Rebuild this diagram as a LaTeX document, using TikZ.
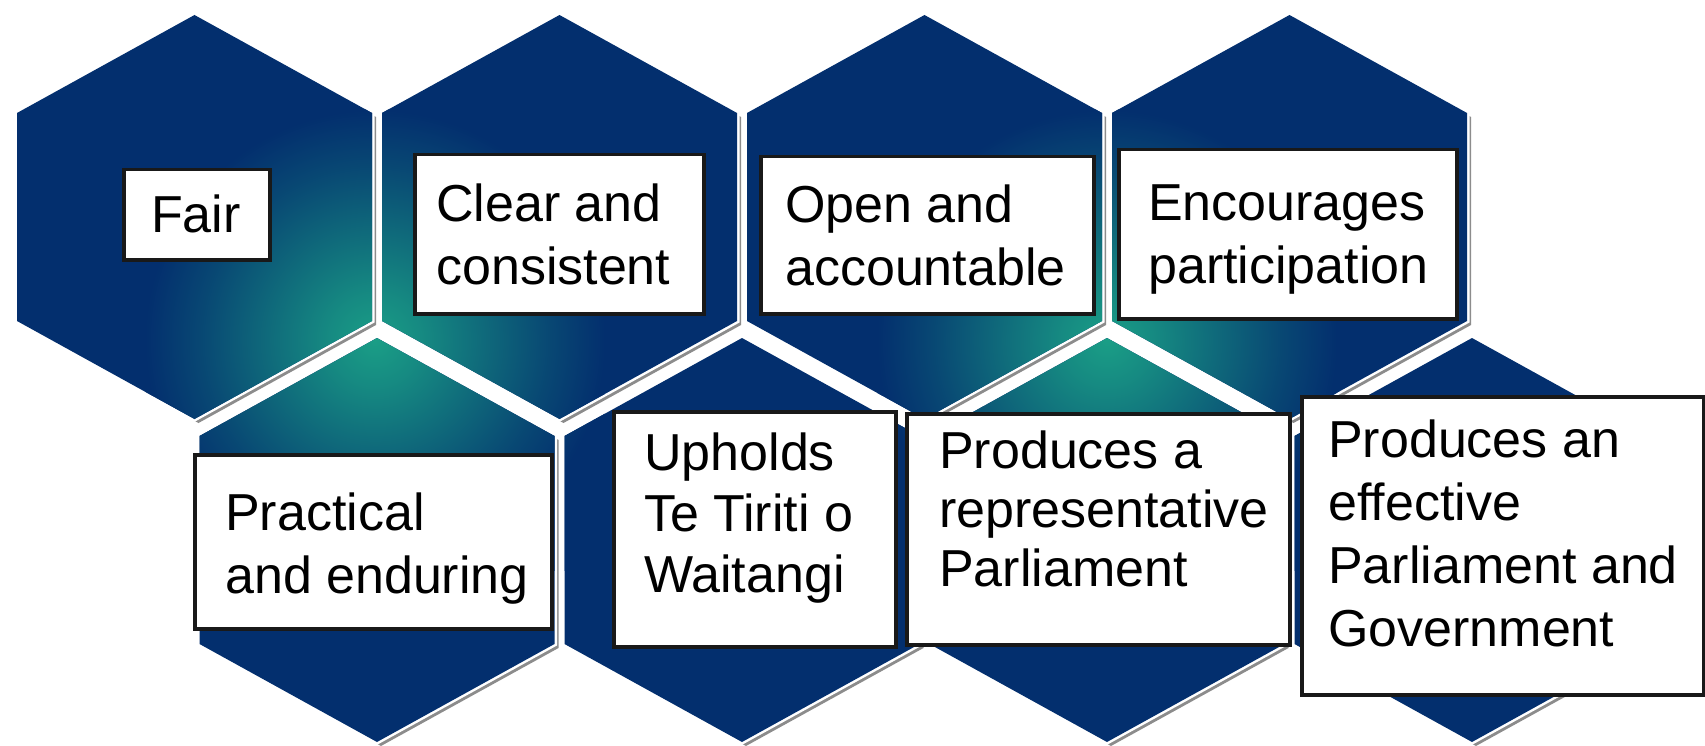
\documentclass[tikz,border=0pt]{standalone}
\usepackage{fontspec}
\setmainfont{Liberation Sans}
\definecolor{navyc}{RGB}{3,47,110}
\definecolor{tealc}{RGB}{26,158,134}
\definecolor{shadowc}{RGB}{140,140,140}
\colorlet{glowA}{tealc!82!navyc}
\colorlet{glowB}{tealc!52!navyc}
\colorlet{glowC}{tealc!22!navyc}
\pgfdeclareradialshading{glow}{\pgfpoint{0bp}{0bp}}{color(0bp)=(tealc); color(5bp)=(glowA); color(12bp)=(glowB); color(19bp)=(glowC); color(25bp)=(navyc); color(50bp)=(navyc)}
\newcommand{\hexat}[2]{(#1,#2) ++(0,-202) -- ++(177.5,98) -- ++(0,208) -- ++(-177.5,98) -- ++(-177.5,-98) -- ++(0,-208) -- cycle}
\tikzset{
  box/.style={draw=black!90, line width=3.5pt, fill=white, inner sep=0pt, anchor=north west},
  lbl/.style={font=\fontsize{52}{63}\selectfont, align=left, inner sep=0pt, anchor=north west, text=black}
}
\begin{document}
\begin{tikzpicture}[x=1pt,y=-1pt]
\useasboundingbox (0,0) rectangle (1705,746);
\fill[white] (0,0) rectangle (1705,746);
\def\hexlist{194.5/217,559.5/217,924.5/217,1289.5/217,377/540,742/540,1107/540,1472/540}
% shadows
\foreach \cx/\cy in \hexlist {
  \fill[shadowc, xshift=4pt, yshift=-4pt] \hexat{\cx}{\cy};
}
% white rims
\foreach \cx/\cy in \hexlist {
  \draw[white, line width=5pt, line join=miter] \hexat{\cx}{\cy};
}
% hexagon fills with glow
\begin{scope}
  \clip \hexat{194.5}{217} \hexat{559.5}{217} \hexat{924.5}{217} \hexat{1289.5}{217}
        \hexat{377}{540} \hexat{742}{540} \hexat{1107}{540} \hexat{1472}{540};
  \fill[navyc] (0,0) rectangle (1705,746);
  \shade[shading=glow] (145,110) rectangle (605,570);
  \shade[shading=glow] (877,110) rectangle (1337,570);
\end{scope}
% boxes
\node[box, minimum width=146, minimum height=90]  (b1) at (122,168) {};
\node[box, minimum width=289, minimum height=159] (b2) at (413,153) {};
\node[box, minimum width=333, minimum height=157] (b3) at (759,155) {};
\node[box, minimum width=338, minimum height=169] (b4) at (1117,148) {};
\node[box, minimum width=357, minimum height=174] (b5) at (193,453) {};
\node[box, minimum width=282, minimum height=235] (b6) at (612,410) {};
\node[box, minimum width=383, minimum height=231] (b7) at (905,412) {};
\node[box, minimum width=402, minimum height=298] (b8) at (1300,395) {};
% texts
\node[lbl] (t1) at (151,195) {Fair};
\node[lbl] (t2) at (436,184) {Clear and\\consistent};
\node[lbl] (t3) at (785,185) {Open and\\accountable};
\node[lbl] (t4) at (1148,185) {Encourages\\participation};
\node[lbl] (t5) at (225,493) {Practical\\and enduring};
\node[lbl, font=\fontsize{52}{61}\selectfont] (t6) at (644,433) {Upholds\\Te Tiriti o\\Waitangi};
\node[lbl, font=\fontsize{52}{59}\selectfont] (t7) at (939,431) {Produces a\\representative\\Parliament};
\node[lbl] (t8) at (1328,420) {Produces an\\effective\\Parliament and\\Government};
\end{tikzpicture}
\end{document}
